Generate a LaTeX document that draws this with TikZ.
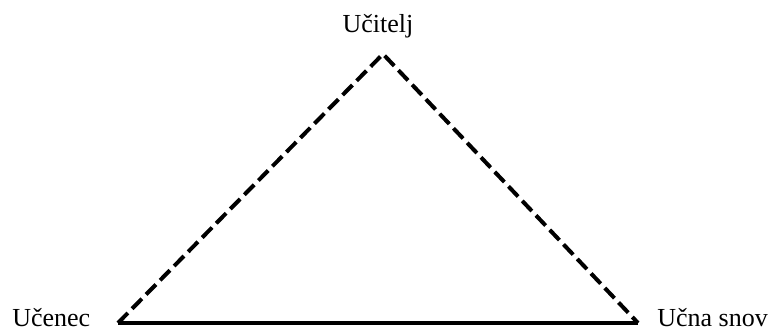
\documentclass[tikz,border=0pt]{standalone}
\usepackage{fontspec}
\setmainfont{Liberation Serif}
\usepackage{tikz}
\usetikzlibrary{positioning}

\begin{document}
\begin{tikzpicture}[x=0.75pt,y=0.75pt,
  label text/.style={font=\fontsize{19.5}{23}\selectfont, inner sep=0pt},
  side line/.style={line width=3pt, dash pattern=on 10.5pt off 4.5pt},
  base line/.style={line width=3.2pt}]
\useasboundingbox (0,0) rectangle (770,331);
% vertices of the triangle
\coordinate (vrh) at (383,277);
\coordinate (levo) at (118,8);
\coordinate (desno) at (638,8);
% labels
\node[label text, anchor=base] (ucitelj) at (378,298) {Učitelj};
\node[label text, anchor=base west] (ucenec) at (12,4) {Učenec};
\node[label text, anchor=base west] (snov) at (657,4) {Učna snov};
% sides
\draw[side line, line join=miter] (levo) -- (vrh) -- (desno);
\draw[base line] (levo) -- (desno);
\end{tikzpicture}
\end{document}
